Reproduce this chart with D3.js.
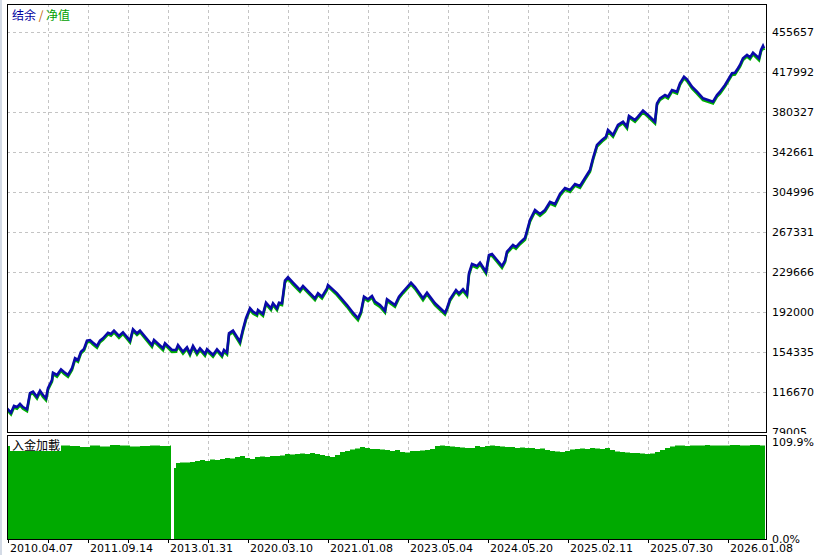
<!DOCTYPE html>
<html><head><meta charset="utf-8">
<script src="https://cdn.jsdelivr.net/npm/d3@7"></script>
<style>
html,body{margin:0;padding:0;background:#fff;}
svg{display:block;}
</style></head>
<body>
<svg id="chart" width="820" height="555"></svg>
<script>
// ---- data ----
const priceTicks = [79005, 116670, 154335, 192000, 229666, 267331, 304996, 342661, 380327, 417992, 455657];
const dateLabels = ["2010.04.07","2011.09.14","2013.01.31","2020.03.10","2021.01.08","2023.05.04","2024.05.20","2025.02.11","2025.07.30","2026.01.08"];
const dateIdx = [1, 81, 161, 241, 321, 401, 481, 561, 641, 721];
const gridIdx = [41, 81, 121, 161, 201, 241, 281, 321, 361, 401, 441, 481, 521, 561, 601, 641, 681, 721];
const loadTicks = [0, 109.9];

const tradeIdx = [0,4,7,10,13,16,20,23,26,30,
 33,36,39,41,45,46,50,54,57,61,
 65,68,71,74,77,80,83,86,90,93,
 96,101,104,107,112,116,123,126,130,133,
 145,147,156,158,165,169,171,176,180,183,
 186,190,193,198,200,206,210,215,217,220,
 222,226,233,236,239,243,246,250,251,256,
 259,264,266,270,272,275,278,281,286,293,
 296,308,311,315,320,321,330,340,346,351,
 354,357,361,365,368,373,378,380,388,392,
 396,400,404,408,416,420,428,438,440,443,
 449,452,456,460,462,465,470,473,479,482,
 485,490,495,498,500,506,509,513,518,523,
 528,533,538,543,548,553,558,563,568,573,
 578,583,586,590,595,599,601,606,611,616,
 620,622,628,631,636,641,648,650,653,658,
 661,665,670,673,677,680,685,690,696,701,
 706,710,713,718,721,725,728,731,733,736,
 740,743,746,752,754,756,757];

const balance = [101300,97200,103500,102500,105400,102500,100400,115700,117000,112200,
 117900,113800,110700,120200,128000,134800,132700,138000,135500,132700,
 139000,148400,146800,154600,157200,165000,165600,163100,160000,165000,
 167200,172500,171300,174400,169400,172900,165000,175700,171900,174400,
 160900,165600,157800,162500,156200,156200,160900,154600,158800,153100,
 160000,153700,157800,152500,156900,151500,156900,151500,156200,153700,
 171900,174400,164000,175700,186100,195500,192300,190100,193900,190100,
 200800,195500,200200,195500,200800,200200,221500,224700,219600,212700,
 216500,204900,209600,206400,214300,217400,209600,198600,191300,186100,
 192300,206400,204000,207100,201700,198600,193200,204000,198600,206400,
 211100,215300,219600,215500,204900,210200,200200,191300,195500,204000,
 212700,209600,213400,208900,228400,237200,235300,238400,229900,245700,
 246600,241000,235300,240300,248800,255100,253200,257300,261700,278600,
 288000,284300,288000,295600,293700,303100,308800,306900,312500,310600,
 318200,325700,336700,349300,354000,357100,363400,358700,368100,371200,
 366500,376600,372800,375900,381600,377500,371200,388500,393200,396300,
 394700,401000,399400,407400,413600,411100,404200,399400,393200,391600,
 390000,396300,399400,405800,410500,416800,417300,421500,424600,430900,
 434000,431800,436200,430900,438700,442500,440300];

const equity = [99900,95600,102100,100900,104000,100900,98700,114300,115400,110600,
 116500,112100,109000,118800,126500,133400,131000,136600,133900,131000,
 137500,146900,145200,153100,155800,163500,164100,161400,158300,163600,
 165800,171000,169700,172900,167700,171400,163300,174300,170300,172900,
 159200,164100,156100,161000,154500,154600,159500,152900,157300,151400,
 158500,152000,156300,150800,155400,149800,155400,149800,154700,152000,
 170400,172900,162300,174200,184600,194000,190600,188400,192400,188400,
 199300,193800,198700,193800,199300,198500,220000,223200,217900,211000,
 215000,203200,208100,204700,212800,215900,207900,196900,189600,184300,
 190800,204900,202300,205600,200000,196900,191500,202500,196900,204900,
 209600,213800,218100,213800,203200,208700,198500,189600,194000,202500,
 211200,207900,211900,207200,226900,235700,233600,236900,228200,244200,
 245100,239300,233600,238800,247300,253600,251500,255800,260000,277100,
 286500,282600,286500,294100,292000,301600,307300,305200,311000,308900,
 316700,324200,335200,347800,352500,355600,361900,357000,366600,369700,
 364800,375100,371100,374400,380100,375800,369500,387000,391700,394800,
 393000,399500,397700,405900,412100,409400,402500,397700,391500,389900,
 388300,394800,397700,404300,409000,415300,415600,420000,423100,429400,
 432500,430100,434700,429200,437200,441000,438600];

const loadIdx = [0,54,63,73,83,93,103,113,123,133,143,153,163,164,167,169,173,183,188,193,
 198,203,208,213,218,223,228,233,238,243,248,253,258,263,273,278,283,288,293,298,
 303,308,313,318,323,328,333,338,343,348,353,358,363,368,373,378,383,388,393,398,
 403,408,413,418,423,428,433,438,443,448,453,458,463,468,473,478,483,488,493,498,
 503,508,513,518,523,528,533,538,543,548,553,558,563,568,573,578,583,588,593,598,
 603,608,613,618,623,628,633,638,643,648,653,658,663,668,673,678,683,693,698,703,
 713,723,733,743,753,758];
const load = [105.4,105.9,105.4,104.2,105.9,104.8,106.5,105.9,104.8,105.4,105.9,105.4,105.9,0,80.4,86.1,86.7,87.2,88.4,89.5,
 88.4,90.1,89.5,90.6,91.8,91.2,92.9,94.0,91.8,90.6,92.9,93.5,92.9,94.0,94.6,96.3,95.7,96.3,96.9,96.3,
 97.4,96.3,95.2,94.0,92.9,95.2,98.6,99.7,101.4,102.5,104.2,103.1,102.0,102.0,101.4,100.8,99.7,100.8,98.6,98.0,
 99.7,99.7,100.3,100.8,102.0,105.4,105.9,105.4,104.8,104.2,103.7,103.1,103.1,105.4,104.2,105.4,105.9,105.4,104.8,104.2,
 104.2,103.1,103.7,103.1,103.1,102.0,102.5,100.8,99.7,99.1,98.6,99.7,101.4,102.0,102.5,102.0,103.1,102.5,102.0,103.1,
 100.8,99.1,98.6,98.0,97.4,97.4,96.9,96.3,96.9,98.6,100.8,103.1,104.8,105.9,105.9,105.4,105.9,105.9,106.5,105.9,
 105.9,106.5,105.9,106.5,105.9,105.9];

// ---- layout ----
const L = 7, R = 767;
const mainTop = 4, mainBot = 432;
const subTop = 435, subBot = 539;
const axisFont = "'DejaVu Sans', Verdana, sans-serif";
const cjkFont = "'Noto Sans CJK SC', sans-serif";

const svg = d3.select("#chart");
const x = d3.scaleLinear().domain([0, 760]).range([L, R]);
const y = d3.scaleLinear().domain([priceTicks[0], priceTicks[priceTicks.length-1]]).range([mainBot, 32]);
const yl = d3.scaleLinear().domain([0, 109.9]).range([subBot, 442]);

// left window edge
svg.append("rect").attr("x",0).attr("y",0).attr("width",2).attr("height",555).attr("fill","#d4dbe6");

// clip paths
const defs = svg.append("defs");
defs.append("clipPath").attr("id","mainClip").append("rect")
  .attr("x",L).attr("y",mainTop).attr("width",R-L).attr("height",mainBot-mainTop);
defs.append("clipPath").attr("id","labelClip").append("rect")
  .attr("x",R).attr("y",0).attr("width",60).attr("height",subTop-1);

// grid - main
const gMain = svg.append("g");
gMain.selectAll("line.hg").data(priceTicks.slice(1)).join("line")
  .attr("x1",L).attr("x2",R).attr("y1",d=>Math.round(y(d))+0.5).attr("y2",d=>Math.round(y(d))+0.5)
  .attr("stroke","#c4c4c4").attr("stroke-dasharray","3,3");
gMain.selectAll("line.vg").data(gridIdx).join("line")
  .attr("x1",d=>Math.round(x(d))+0.5).attr("x2",d=>Math.round(x(d))+0.5).attr("y1",mainTop).attr("y2",mainBot)
  .attr("stroke","#c4c4c4").attr("stroke-dasharray","3,3");

// lines
const pts = tradeIdx.map((t,i)=>({t, b:balance[i], e:equity[i]}));
const lineB = d3.line().x(d=>x(d.t)).y(d=>y(d.b));
const lineE = d3.line().x(d=>x(d.t)).y(d=>y(d.e));
const gLines = svg.append("g").attr("clip-path","url(#mainClip)");
gLines.append("path").datum(pts).attr("d",lineE).attr("fill","none")
  .attr("stroke","#00b000").attr("stroke-width",2.6).attr("stroke-linejoin","miter");
gLines.append("path").datum(pts).attr("d",lineB).attr("fill","none")
  .attr("stroke","#0a0aa8").attr("stroke-width",2.6).attr("stroke-linejoin","miter");

// main frame
svg.append("rect").attr("x",L+0.5).attr("y",mainTop+0.5).attr("width",R-L-1).attr("height",mainBot-mainTop)
  .attr("fill","none").attr("stroke","#000");

// right price labels
svg.append("g").attr("clip-path","url(#labelClip)")
  .selectAll("text").data(priceTicks).join("text")
  .attr("x",772).attr("y",d=>y(d)).attr("dy","0.36em")
  .attr("font-family",axisFont).attr("font-size",11).attr("fill","#000")
  .text(d=>d);

// legend
const leg = svg.append("text").attr("x",12).attr("y",20).attr("font-family",cjkFont).attr("font-size",12);
leg.append("tspan").attr("fill","#0000a0").text("结余");
leg.append("tspan").attr("fill","#c06000").text(" / ");
leg.append("tspan").attr("fill","#00a000").text("净值");

// ---- sub panel ----
const gSub = svg.append("g");
gSub.selectAll("line.vg2").data(gridIdx).join("line")
  .attr("x1",d=>Math.round(x(d))+0.5).attr("x2",d=>Math.round(x(d))+0.5).attr("y1",subTop).attr("y2",subBot)
  .attr("stroke","#c4c4c4").attr("stroke-dasharray","3,3");

const loadPts = loadIdx.map((t,i)=>({t, v:load[i]}));
const area = d3.area().curve(d3.curveStepAfter).x(d=>x(d.t)).y0(yl(0)).y1(d=>yl(d.v));
gSub.append("path").datum(loadPts).attr("d",area).attr("fill","#00aa00");

// label box
gSub.append("rect").attr("x",L+3).attr("y",subTop).attr("width",51).attr("height",16).attr("fill","#fff");
gSub.append("text").attr("x",12).attr("y",450).attr("font-family",cjkFont).attr("font-size",12)
  .attr("fill","#000").text("入金加載");

svg.append("rect").attr("x",L+0.5).attr("y",subTop+0.5).attr("width",R-L-1).attr("height",subBot-subTop)
  .attr("fill","none").attr("stroke","#000");

svg.selectAll("text.lt").data(loadTicks).join("text")
  .attr("x",772).attr("y",d=>yl(d)).attr("dy","0.36em")
  .attr("font-family",axisFont).attr("font-size",11).attr("fill","#000")
  .text(d=>d.toFixed(1)+"%");

// bottom axis ticks and labels
svg.selectAll("line.bt").data(gridIdx.concat([1])).join("line")
  .attr("x1",d=>Math.round(x(d))+0.5).attr("x2",d=>Math.round(x(d))+0.5)
  .attr("y1",subBot+0.5).attr("y2",subBot+4).attr("stroke","#000");
svg.selectAll("text.dl").data(dateIdx).join("text")
  .attr("x",(d)=>x(d)+2).attr("y",548).attr("dy","0.36em")
  .attr("font-family",axisFont).attr("font-size",11).attr("fill","#000")
  .text((d,i)=>dateLabels[i]);
</script>
</body></html>
